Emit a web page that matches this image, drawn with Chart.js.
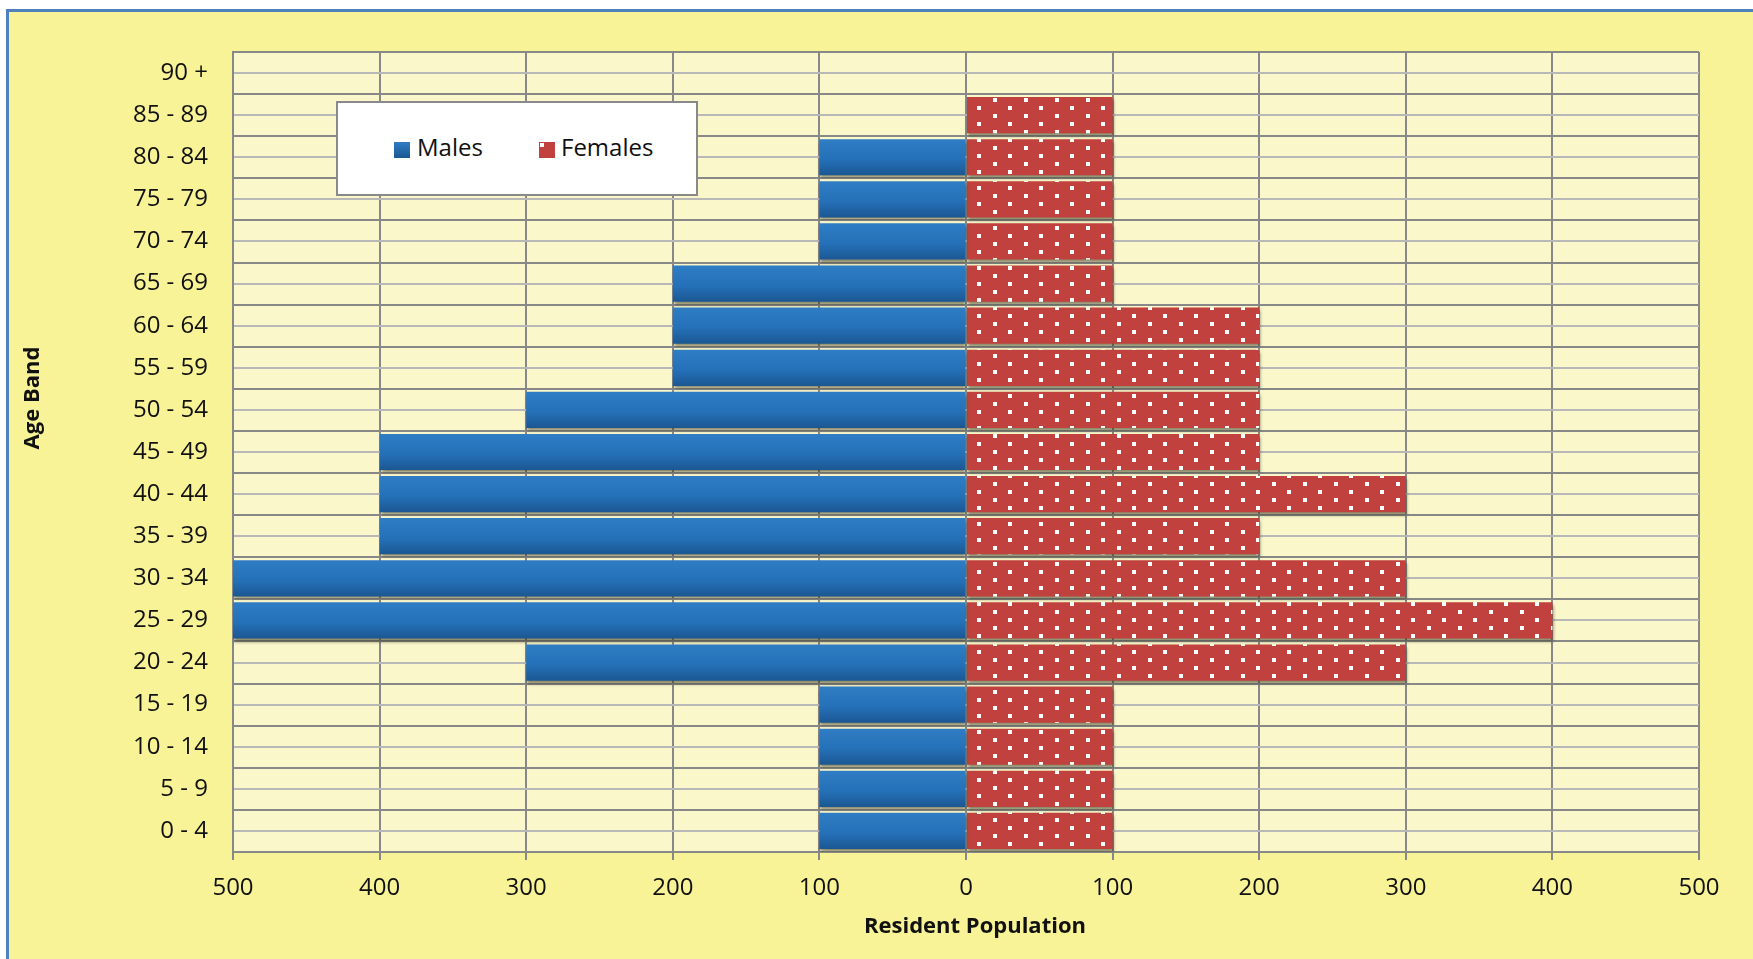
<!DOCTYPE html>
<html>
<head>
<meta charset="utf-8">
<script src="https://cdn.jsdelivr.net/npm/chart.js@4.4.1/dist/chart.umd.min.js"></script>
<style>
body{margin:0;background:#fff;}
#wrap{position:relative;width:1753px;height:959px;}
#legend{position:absolute;left:336px;top:101px;width:358px;height:91px;background:#fff;border:2px solid #8a8a8a;font-family:"Open Sans";font-size:24px;line-height:24px;color:#111;}
#legend .sw{position:absolute;top:39px;width:16px;height:16px;}
#legend .lb{position:absolute;top:32px;white-space:nowrap;}
</style>
</head>
<body>
<div id="wrap">
  <canvas id="pyramid" width="1753" height="959"></canvas>
  <div id="legend">
    <div class="sw" style="left:56px;background:linear-gradient(#2f7dc4,#1b5792);"></div>
    <div class="lb" style="left:79px;">Males</div>
    <div class="sw" style="left:201px;background:#c0413e;"><div style="width:4px;height:4px;background:#fff;margin:1px;"></div></div>
    <div class="lb" style="left:223px;">Females</div>
  </div>
</div>
<script>
// данные пирамиды (снизу вверх)
var ageBands = ['0 - 4','5 - 9','10 - 14','15 - 19','20 - 24','25 - 29','30 - 34','35 - 39','40 - 44',
                '45 - 49','50 - 54','55 - 59','60 - 64','65 - 69','70 - 74','75 - 79','80 - 84','85 - 89','90 +'];
var males   = [100,100,100,100,300,500,500,400,400,400,300,200,200,200,100,100,100,0,0];
var females = [100,100,100,100,300,400,300,200,300,200,200,200,200,100,100,100,100,100,0];
var xMin = -500, xMax = 500, xStep = 100;

var barPct = 0.86;
var gridDark = '#888888';
var gridLight = '#b8b8b8';
var font = 'Open Sans';

var canvas = document.getElementById('pyramid');
var ctx = canvas.getContext('2d');

// узор в точку для женщин
function dotPattern() {
    var c = document.createElement('canvas');
    c.width = 31; c.height = 16;
    var g = c.getContext('2d');
    g.fillStyle = '#c0413e';
    g.fillRect(0, 0, 31, 16);
    g.fillStyle = '#ffffff';
    g.fillRect(1, 2, 4, 4);
    g.fillRect(16, 10, 4, 4);
    return ctx.createPattern(c, 'repeat');
}
var femalesFill = dotPattern();

// градиент для каждого синего столбца
function malesFill(c) {
    var ys = c.chart.scales.y;
    if (!ys || c.dataIndex === undefined) return '#2672ba';
    var yc = ys.getPixelForValue(c.dataIndex);
    var h = ys.height / ageBands.length * barPct / 2;
    if (!isFinite(yc) || !isFinite(h) || h <= 0) return '#2672ba';
    var g = c.chart.ctx.createLinearGradient(0, yc - h, 0, yc + h);
    g.addColorStop(0, '#2f7dc4');
    g.addColorStop(0.55, '#2571b9');
    g.addColorStop(1, '#1b5792');
    return g;
}

function drawTitle(c, text, x, y, angle) {
    c.save();
    c.translate(x, y);
    c.rotate(angle);
    c.font = 'bold 22px "' + font + '"';
    c.fillStyle = '#111';
    c.textAlign = 'center';
    c.textBaseline = 'middle';
    c.fillText(text, 0, 0);
    c.restore();
}

var background = {
    id: 'background',
    beforeDraw: function (chart) {
        var c = chart.ctx, a = chart.chartArea;
        c.save();
        c.fillStyle = '#ffffff';
        c.fillRect(0, 0, chart.width, chart.height);
        c.fillStyle = '#f7f396';
        c.fillRect(8, 12, chart.width, chart.height);
        c.fillStyle = '#4f81bd';
        c.fillRect(6, 9, chart.width, 3);
        c.fillRect(6, 9, 3, chart.height);
        c.fillStyle = '#faf7cb';
        c.fillRect(a.left, a.top, a.right - a.left, a.bottom - a.top);
        c.restore();
    },
    beforeDatasetsDraw: function (chart) {
        var c = chart.ctx;
        c.save();
        c.shadowColor = 'rgba(50,50,30,0.55)';
        c.shadowBlur = 3;
        c.shadowOffsetX = 1;
        c.shadowOffsetY = 3;
    },
    afterDatasetsDraw: function (chart) {
        chart.ctx.restore();
    },
    afterDraw: function (chart) {
        drawTitle(chart.ctx, 'Age Band', 33, 398, -Math.PI / 2);
        drawTitle(chart.ctx, 'Resident Population', 975, 927, 0);
    }
};

new Chart(canvas, {
    type: 'bar',
    data: {
        labels: ageBands,
        datasets: [
            {
                label: 'Males',
                data: males.map(function (v) { return -v; }),
                backgroundColor: malesFill,
                borderWidth: 0
            },
            {
                label: 'Females',
                data: females,
                backgroundColor: femalesFill,
                borderWidth: 0
            }
        ]
    },
    options: {
        indexAxis: 'y',
        responsive: false,
        animation: false,
        events: [],
        categoryPercentage: 1,
        barPercentage: barPct,
        layout: { padding: { left: 0, top: 52, right: 54, bottom: 0 } },
        plugins: {
            legend: { display: false },
            tooltip: { enabled: false }
        },
        scales: {
            x: {
                stacked: true,
                min: xMin,
                max: xMax,
                afterFit: function (s) { s.height = 107; },
                ticks: {
                    stepSize: xStep,
                    padding: 14,
                    color: '#111',
                    font: { family: font, size: 24 },
                    callback: function (v) { return Math.abs(v); }
                },
                grid: { color: gridDark, lineWidth: 2, tickLength: 8, drawTicks: true },
                border: { display: true, color: gridDark, width: 2 }
            },
            y: {
                stacked: true,
                reverse: true,
                afterFit: function (s) { s.width = 233; },
                ticks: {
                    padding: 25,
                    color: '#111',
                    font: { family: font, size: 24 }
                },
                grid: { color: gridDark, lineWidth: 2, drawTicks: false, offset: true },
                border: { display: true, color: gridDark, width: 2 }
            },
            yMid: {
                type: 'category',
                position: 'left',
                reverse: true,
                offset: true,
                afterFit: function (s) { s.width = 0; },
                ticks: { display: false },
                grid: { color: gridLight, lineWidth: 2, drawTicks: false, offset: false },
                border: { display: false }
            }
        }
    },
    plugins: [background]
});
</script>
</body>
</html>
